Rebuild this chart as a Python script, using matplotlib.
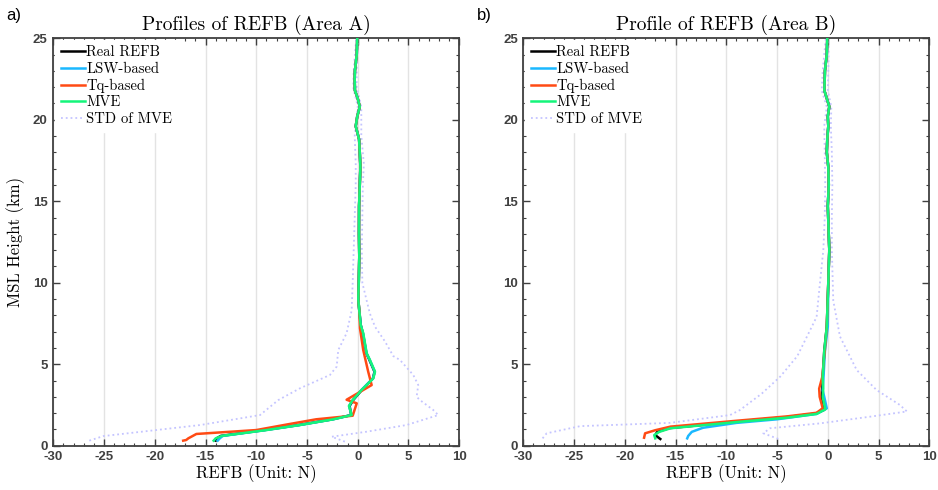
import numpy as np
import matplotlib
matplotlib.use('Agg')
import matplotlib.pyplot as plt
from matplotlib.ticker import MultipleLocator

plt.rcParams['axes.unicode_minus'] = False

# ---- Area A ----
# common upper part (all profiles overlap above ~8 km)
a_up_h = [9.0, 10.0, 11.6, 13.0, 14.7, 16.0, 17.1, 18.0, 18.8, 19.6, 20.2, 20.8, 21.3, 21.8, 22.5, 23.0, 24.0, 25.0]
a_up_x = [0.05, 0.1, 0.15, 0.12, 0.13, 0.2, 0.26, 0.2, 0.13, -0.2, -0.05, 0.2, 0.0, -0.28, -0.3, -0.28, -0.1, -0.05]

a_mve_h = [0.31, 0.45, 0.6, 0.96, 1.27, 1.62, 1.88, 2.44, 2.8, 3.42, 4.13, 4.54, 5.26, 5.67, 6.9, 7.4, 8.3]
a_mve_x = [-14.2, -14.0, -13.4, -9.0, -5.7, -2.4, -0.6, -0.87, -0.5, 0.38, 1.53, 1.7, 1.2, 0.88, 0.54, 0.29, 0.15]
a_real_x = [-14.0, -13.9, -13.5, -9.2, -5.8, -2.5, -0.65, -0.8, -0.45, 0.4, 1.5, 1.65, 1.15, 0.85, 0.5, 0.3, 0.15]
a_lsw_x = [-13.8, -13.6, -13.3, -9.1, -5.7, -2.45, -0.62, -0.85, -0.5, 0.36, 1.5, 1.68, 1.18, 0.86, 0.52, 0.28, 0.15]
a_tq_h = [0.31, 0.35, 0.45, 0.72, 0.96, 1.3, 1.62, 1.84, 2.6, 2.82, 3.72, 4.54, 5.87, 7.2, 8.3]
a_tq_x = [-17.2, -16.9, -16.7, -15.9, -10.0, -7.0, -4.1, -0.5, -0.1, -1.1, 1.37, 1.03, 0.54, 0.22, 0.15]

a_std_lo_h = [0.31, 0.59, 1.27, 1.88, 2.8, 3.52, 4.34, 4.85, 5.87, 6.9, 8.3, 10.0, 12.0, 14.0, 16.0, 17.3, 19.0, 20.8, 22.0, 23.0, 25.0]
a_std_lo_x = [-26.45, -25.07, -15.5, -9.63, -7.83, -5.7, -2.74, -2.08, -1.92, -1.1, -0.6, -0.5, -0.4, -0.3, -0.2, -0.2, -0.3, 0.0, -0.45, -0.4, -0.15]
a_std_hi_h = [0.25, 0.55, 0.86, 1.27, 1.88, 2.19, 2.8, 3.0, 3.72, 4.34, 5.26, 5.5, 6.4, 7.3, 8.1, 8.9, 10.0, 12.0, 14.0, 16.0, 17.3, 19.0, 20.8, 22.0, 23.0, 25.0]
a_std_hi_x = [-1.27, -2.57, 0.88, 4.82, 7.93, 7.44, 6.13, 5.8, 5.96, 5.47, 4.16, 3.5, 2.68, 1.7, 1.2, 0.88, 0.45, 0.4, 0.45, 0.5, 0.6, 0.35, 0.35, -0.1, -0.1, 0.05]

# ---- Area B ----
b_up_h = [12.0, 14.7, 16.0, 17.1, 18.0, 18.8, 19.6, 20.2, 20.8, 21.8, 22.5, 23.0, 24.0, 25.0]
b_up_x = [0.15, 0.0, 0.1, 0.05, -0.1, -0.05, 0.05, 0.0, 0.15, -0.34, -0.3, -0.28, -0.1, -0.05]

b_mve_h = [0.45, 0.65, 0.85, 1.07, 1.45, 1.72, 1.95, 2.23, 3.0, 3.5, 4.2, 5.8, 7.3, 10.0]
b_mve_x = [-17.0, -17.1, -16.6, -15.5, -9.0, -4.0, -1.1, -0.25, -0.5, -0.45, -0.5, -0.35, -0.1, 0.05]
b_real_h = [0.41, 0.65, 0.85, 1.08, 1.47, 1.75, 1.97, 2.2, 3.0, 3.5, 4.2, 5.8, 7.3, 10.0]
b_real_x = [-16.5, -17.0, -16.8, -15.6, -9.1, -4.1, -1.2, -0.35, -0.6, -0.55, -0.5, -0.35, -0.1, 0.05]
b_lsw_h = [0.45, 0.6, 0.85, 1.1, 1.4, 1.62, 1.95, 2.29, 2.8, 3.4, 4.0, 5.8, 7.3, 10.0]
b_lsw_x = [-13.85, -13.75, -13.4, -12.3, -9.0, -5.0, -1.1, -0.1, -0.28, -0.5, -0.44, -0.28, 0.0, 0.05]
b_tq_h = [0.49, 0.76, 0.95, 1.17, 1.53, 1.8, 2.02, 2.3, 3.0, 3.5, 4.2, 5.8, 7.3, 10.0]
b_tq_x = [-18.1, -18.0, -17.0, -15.5, -9.0, -4.0, -1.1, -0.5, -0.8, -0.85, -0.55, -0.3, -0.1, 0.05]

b_std_lo_h = [0.45, 0.76, 1.2, 1.4, 1.88, 2.19, 3.2, 4.23, 5.5, 7.9, 10.0, 12.0, 14.0, 16.0, 18.0, 19.6, 20.8, 21.8, 23.0, 25.0]
b_std_lo_x = [-28.1, -27.7, -24.4, -15.55, -9.63, -8.65, -6.5, -4.7, -3.0, -1.1, -0.77, -0.44, -0.3, -0.25, -0.3, -0.35, -0.1, -0.6, -0.5, -0.2]
b_std_hi_h = [0.42, 0.76, 1.07, 1.37, 1.78, 2.1, 2.5, 3.42, 4.64, 6.7, 8.9, 12.0, 14.0, 16.0, 18.0, 19.6, 20.8, 21.8, 23.0, 25.0]
b_std_hi_x = [-4.88, -6.35, -5.7, -0.77, 4.16, 7.8, 7.1, 4.8, 2.85, 1.2, 0.54, 0.4, 0.4, 0.45, 0.4, 0.3, 0.35, 0.0, 0.05, 0.1]

c_real = 'black'
c_lsw = '#1ab8ff'
c_tq = '#ff4a14'
c_mve = '#14f57a'
c_std = '#c4c4ff'

serif = 'cmr10'
tick_font = dict(family='Liberation Sans', weight='bold', size=9.5)


def join(h_low, x_low, h_up, x_up):
    return np.array(list(x_low) + list(x_up)), np.array(list(h_low) + list(h_up))


fig = plt.figure(figsize=(9.38, 4.90), dpi=100)
ax1 = fig.add_axes([0.0568, 0.0904, 0.4328, 0.8316])
ax2 = fig.add_axes([0.5579, 0.0904, 0.4328, 0.8316])

panels = [
    (ax1, 'Profiles of REFB (Area A)', 'a)',
     [(a_mve_h, a_real_x), (a_mve_h, a_lsw_x), (a_tq_h, a_tq_x), (a_mve_h, a_mve_x)],
     a_up_h, a_up_x, (a_std_lo_h, a_std_lo_x), (a_std_hi_h, a_std_hi_x)),
    (ax2, 'Profile of REFB (Area B)', 'b)',
     [(b_real_h, b_real_x), (b_lsw_h, b_lsw_x), (b_tq_h, b_tq_x), (b_mve_h, b_mve_x)],
     b_up_h, b_up_x, (b_std_lo_h, b_std_lo_x), (b_std_hi_h, b_std_hi_x)),
]

names = ['Real REFB', 'LSW-based', 'Tq-based', 'MVE']
colors = [c_real, c_lsw, c_tq, c_mve]

for ax, title, tag, series, up_h, up_x, std_lo, std_hi in panels:
    for i, (hh, xx) in enumerate(series):
        x, h = join(hh, xx, up_h, up_x)
        ax.plot(x, h, color=colors[i], lw=1.8, label=names[i], zorder=3 + i)
    ax.plot(std_lo[1], std_lo[0], color=c_std, lw=1.3, ls=':', label='STD of MVE', zorder=2)
    ax.plot(std_hi[1], std_hi[0], color=c_std, lw=1.3, ls=':', zorder=2)

    ax.set_xlim(-30, 10)
    ax.set_ylim(0, 25)
    ax.xaxis.set_major_locator(MultipleLocator(5))
    ax.xaxis.set_minor_locator(MultipleLocator(1))
    ax.yaxis.set_major_locator(MultipleLocator(5))
    ax.yaxis.set_minor_locator(MultipleLocator(1))
    ax.grid(axis='x', which='major', color='#e3e3e3', lw=1.0, zorder=0)
    ax.set_axisbelow(True)
    ax.tick_params(which='both', direction='in', top=True, right=True, colors='#404040')
    ax.tick_params(which='major', length=5, width=1.0, pad=4)
    ax.tick_params(which='minor', length=2.5, width=0.8)
    for lab in ax.get_xticklabels() + ax.get_yticklabels():
        lab.set_fontfamily(tick_font['family'])
        lab.set_fontweight(tick_font['weight'])
        lab.set_fontsize(tick_font['size'])
        lab.set_color('#404040')
    for sp in ax.spines.values():
        sp.set_color('#404040')
        sp.set_linewidth(1.3)

    ax.set_title(title, fontfamily=serif, fontsize=14, pad=6)
    ax.set_xlabel('REFB (Unit: N)', fontfamily=serif, fontsize=12, labelpad=1)
    ax.text(-0.115, 1.056, tag, transform=ax.transAxes, fontsize=12,
            fontfamily='Liberation Sans', va='center', ha='left')

    leg = ax.legend(loc='upper left', frameon=True, fancybox=False, framealpha=1,
                    edgecolor='white', prop={'family': serif, 'size': 10.5},
                    handlelength=1.7, handletextpad=0.05, borderaxespad=0.1,
                    labelspacing=0.19, borderpad=0.4)
    leg.set_zorder(10)

ax1.set_ylabel('MSL Height (km)', fontfamily=serif, fontsize=12, labelpad=6)

plt.savefig('out.png', dpi=100)
